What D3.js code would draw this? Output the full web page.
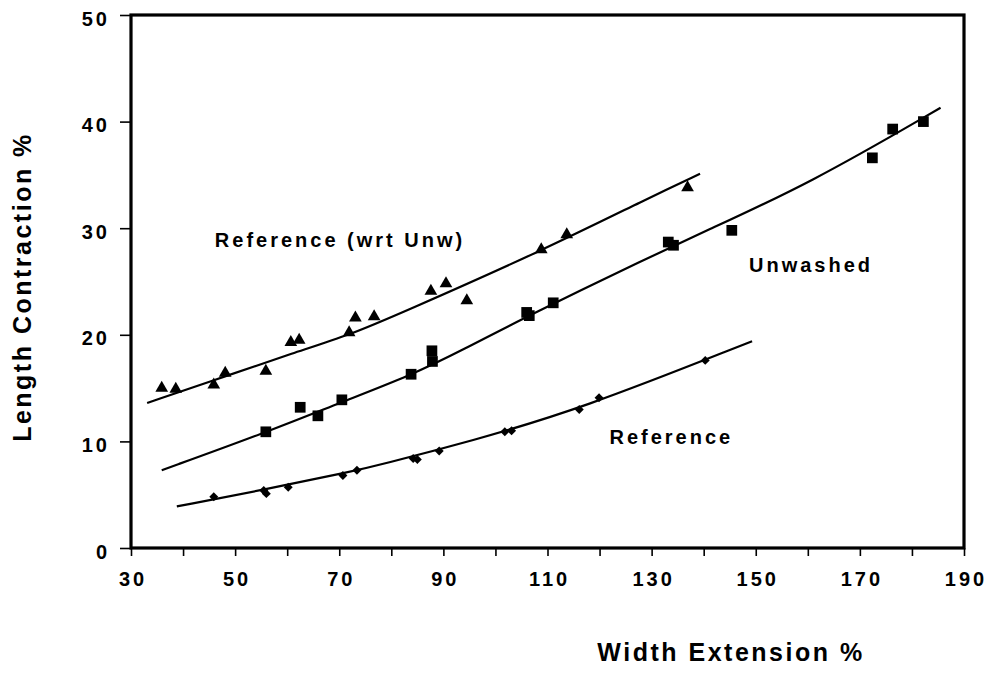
<!DOCTYPE html>
<html>
<head>
<meta charset="utf-8">
<script src="https://cdn.jsdelivr.net/npm/d3@7"></script>
<style>
  html, body { margin: 0; padding: 0; background: #fff; }
  svg text { font-family: "Liberation Sans", Arial, Helvetica, sans-serif; font-weight: bold; fill: #000; }
</style>
</head>
<body>
<svg id="chart" width="996" height="692"></svg>
<script>
// Measured points: [width extension %, length contraction %]
const refWrtUnw = [
  [35.9, 15.0], [38.6, 14.9], [45.9, 15.3], [48.1, 16.4], [55.9, 16.6],
  [60.7, 19.3], [62.3, 19.5], [71.9, 20.2], [73.1, 21.6], [76.7, 21.7],
  [87.6, 24.1], [90.5, 24.8], [94.5, 23.2], [108.8, 28.0], [113.7, 29.4],
  [136.9, 33.8]
];
const unwashed = [
  [55.9, 10.9], [62.5, 13.2], [65.9, 12.4], [70.5, 13.9], [83.8, 16.3],
  [87.8, 18.5], [87.9, 17.5], [106.0, 22.1], [106.5, 21.8], [111.1, 23.0],
  [133.2, 28.7], [134.2, 28.4], [145.4, 29.8], [172.4, 36.6], [176.3, 39.3],
  [182.2, 40.0]
];
const reference = [
  [45.9, 4.8], [55.5, 5.4], [56.0, 5.1], [60.2, 5.7], [70.7, 6.8],
  [73.4, 7.3], [84.2, 8.4], [85.0, 8.3], [89.2, 9.1], [101.8, 10.9],
  [103.1, 11.0], [116.1, 13.0], [119.9, 14.1], [140.3, 17.6]
];

// Fitted curves, read as knots along each trend line
const fitRefWrtUnw = [
  [33.1, 13.6], [48.1, 16.1], [61.2, 18.3], [72.1, 20.0], [81.7, 22.0],
  [108.6, 27.8], [129.7, 32.9], [139.3, 35.1]
];
const fitUnwashed = [
  [35.9, 7.3], [55.7, 10.8], [70.5, 13.7], [83.8, 16.2], [93.8, 18.6],
  [106.3, 21.8], [129.7, 27.3], [139.3, 29.5], [160.4, 34.2], [185.5, 41.3]
];
const fitReference = [
  [38.8, 3.9], [55.9, 5.5], [72.7, 7.2], [77.8, 7.8], [95.1, 10.0],
  [116.2, 13.0], [149.3, 19.4]
];

const xTicks = d3.range(30, 191, 10);
const xTickLabels = [30, 50, 70, 90, 110, 130, 150, 170, 190];
const yTicks = [0, 10, 20, 30, 40, 50];

const seriesLabels = [
  { text: "Reference (wrt Unw)", at: [46.1, 28.25] },
  { text: "Unwashed", at: [148.7, 25.9] },
  { text: "Reference", at: [121.9, 9.76] }
];

const svg = d3.select("#chart");
const plotL = 131, plotR = 964, plotT = 15, plotB = 548;

const x = d3.scaleLinear().domain([30, 190]).range([plotL, plotR]);
const y = d3.scaleLinear().domain([0, 50]).range([plotB, plotT]);

// Frame
svg.append("rect")
  .attr("x", plotL).attr("y", plotT)
  .attr("width", plotR - plotL).attr("height", plotB - plotT)
  .attr("fill", "none").attr("stroke", "#000").attr("stroke-width", 3.2);

function styleTickText(sel) {
  sel.attr("font-size", 20).attr("font-family", "Liberation Sans, Arial, sans-serif")
    .attr("font-weight", "bold").attr("letter-spacing", 3).attr("fill", "#000");
}

// X axis
const xAxis = svg.append("g")
  .attr("transform", `translate(0,${plotB})`)
  .call(d3.axisBottom(x).tickValues(xTicks).tickSize(8).tickPadding(16)
    .tickFormat(d => xTickLabels.includes(d) ? d : ""));
xAxis.select(".domain").remove();
xAxis.selectAll(".tick line").attr("stroke", "#000").attr("stroke-width", 1.6);
xAxis.selectAll(".tick text").call(styleTickText).attr("dx", 1.5);

// Y axis
const yAxis = svg.append("g")
  .attr("transform", `translate(${plotL},0)`)
  .call(d3.axisLeft(y).tickValues(yTicks).tickSize(11).tickPadding(10));
yAxis.select(".domain").remove();
yAxis.selectAll(".tick line").attr("stroke", "#000").attr("stroke-width", 1.6);
yAxis.selectAll(".tick text").call(styleTickText).attr("dy", "0.5em");

// Trend lines
const line = d3.line().x(d => x(d[0])).y(d => y(d[1])).curve(d3.curveBasis);
[fitRefWrtUnw, fitUnwashed, fitReference].forEach(pts => {
  svg.append("path").datum(pts)
    .attr("d", line)
    .attr("fill", "none").attr("stroke", "#000").attr("stroke-width", 2.2);
});

// Markers
function drawMarkers(data, type, size, rotate) {
  const sym = d3.symbol().type(type).size(size);
  svg.append("g").selectAll("path").data(data).join("path")
    .attr("d", sym)
    .attr("transform", d => `translate(${x(d[0])},${y(d[1])}) rotate(${rotate})`)
    .attr("fill", "#000");
}
drawMarkers(refWrtUnw, d3.symbolTriangle, 70, 0);
drawMarkers(unwashed, d3.symbolSquare, 115, 0);
drawMarkers(reference, d3.symbolSquare, 40, 45);

// Series labels
seriesLabels.forEach(l => {
  svg.append("text")
    .attr("x", x(l.at[0])).attr("y", y(l.at[1]))
    .attr("font-size", 20).attr("letter-spacing", 3)
    .text(l.text);
});

// Axis titles
svg.append("text")
  .attr("x", 731).attr("y", 661)
  .attr("text-anchor", "middle")
  .attr("font-size", 25).attr("letter-spacing", 2.5)
  .text("Width Extension %");

svg.append("text")
  .attr("transform", "translate(31,287) rotate(-90)")
  .attr("text-anchor", "middle")
  .attr("font-size", 25).attr("letter-spacing", 2.5)
  .text("Length Contraction %");
</script>
</body>
</html>
